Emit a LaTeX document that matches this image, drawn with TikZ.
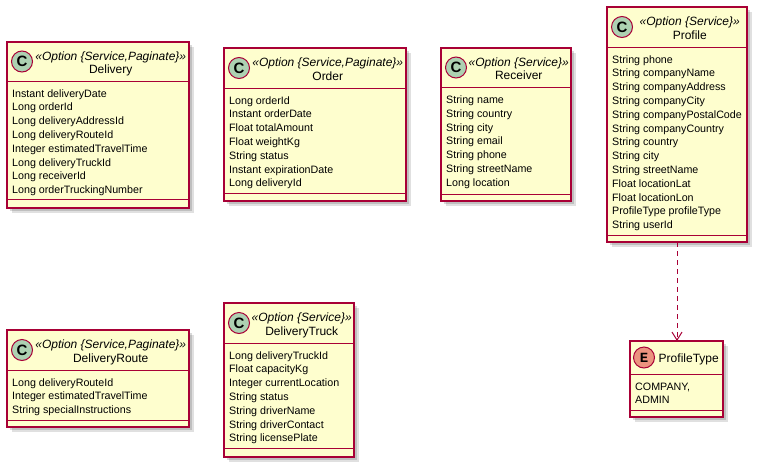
\documentclass[tikz,border=0pt]{standalone}
\usepackage{fontspec}
\setmainfont{Liberation Sans}
\newfontfamily\spotmono{Liberation Mono}
\usetikzlibrary{shadows,arrows.meta}
\definecolor{umlfill}{HTML}{FEFECE}
\definecolor{umlborder}{HTML}{A80036}
\definecolor{spotC}{HTML}{ADD1B2}
\definecolor{spotE}{HTML}{EB937F}
\tikzset{
  clsbox/.style={draw=umlborder, fill=umlfill, line width=1.2pt, inner sep=0pt, outer sep=0pt,
    anchor=north west, rectangle,
    drop shadow={shadow xshift=4.5pt, shadow yshift=-4.5pt, opacity=0.12, fill=black},
    drop shadow={shadow xshift=3pt, shadow yshift=-3pt, opacity=0.15, fill=black}},
  sepline/.style={draw=umlborder, line width=1pt},
  spot/.style={circle, draw=umlborder, line width=1pt, minimum size=21pt, inner sep=0pt},
  spotc/.style={fill=spotC, font=\fontsize{15}{15}\selectfont\bfseries},
  spote/.style={fill=spotE, font=\fontsize{14}{14}\selectfont\spotmono\bfseries},
  stereo/.style={anchor=base, inner sep=0pt, font=\fontsize{12}{14}\selectfont\itshape},
  cname/.style={anchor=base, inner sep=0pt, font=\fontsize{12}{14}\selectfont},
  attr/.style={anchor=base west, inner sep=0pt, font=\fontsize{10.7}{13.8}\selectfont},
  dep/.style={draw=umlborder, line width=1pt, dash pattern=on 5pt off 4pt,
    -{Straight Barb[length=8pt, width=10pt, line width=1pt]}}
}
\newcommand{\umlbox}[7]{%
  \node[clsbox, minimum width={#4-#2}, minimum height={#7-#3}] (#1) at (#2,#3) {};
  \draw[sepline] (#2,#5) -- (#4,#5);
  \draw[sepline] (#2,#6) -- (#4,#6);
}
\newcommand{\umlattrs}[4]{%
  \foreach \t [count=\i from 0] in {#4} {\node[attr] (#1-\i) at (#2,{#3+13.8*\i}) {\t};}
}
\begin{document}
\begin{tikzpicture}[x=1pt, y=-1pt]
\useasboundingbox (0,0) rectangle (760,469);

% Delivery
\umlbox{delivery}{7}{42}{189}{81.5}{199}{208}
\node[spot,spotc] (delivery-spot) at (22,61.5) {C};
\node[stereo] (delivery-st) at (110.75,60) {«Option \{Service,Paginate\}»};
\node[cname] (delivery-nm) at (110.75,73.5) {Delivery};
\umlattrs{delivery-a}{12}{97}{Instant deliveryDate, Long orderId, Long deliveryAddressId, Long deliveryRouteId, Integer estimatedTravelTime, Long deliveryTruckId, Long receiverId, Long orderTruckingNumber}

% Order
\umlbox{order}{224}{48}{406}{88}{193}{201}
\node[spot,spotc] (order-spot) at (239,68) {C};
\node[stereo] (order-st) at (327.75,66) {«Option \{Service,Paginate\}»};
\node[cname] (order-nm) at (327.75,80) {Order};
\umlattrs{order-a}{229}{104}{Long orderId, Instant orderDate, Float totalAmount, Float weightKg, String status, Instant expirationDate, Long deliveryId}

% Receiver
\umlbox{receiver}{441}{48}{571}{87.5}{194}{201}
\node[spot,spotc] (receiver-spot) at (456,67.5) {C};
\node[stereo] (receiver-st) at (518.75,66) {«Option \{Service\}»};
\node[cname] (receiver-nm) at (518.75,79.5) {Receiver};
\umlattrs{receiver-a}{446}{103.5}{String name, String country, String city, String email, String phone, String streetName, Long location}

% Profile
\umlbox{profile}{607}{7}{747}{47}{235}{242}
\node[spot,spotc] (profile-spot) at (622,27) {C};
\node[stereo] (profile-st) at (689.75,25) {«Option \{Service\}»};
\node[cname] (profile-nm) at (689.75,39) {Profile};
\umlattrs{profile-a}{612}{63}{String phone, String companyName, String companyAddress, String companyCity, String companyPostalCode, String companyCountry, String country, String city, String streetName, Float locationLat, Float locationLon, ProfileType profileType, String userId}

% DeliveryRoute
\umlbox{route}{7}{330}{189}{370}{420}{427}
\node[spot,spotc] (route-spot) at (22,350) {C};
\node[stereo] (route-st) at (110.75,348) {«Option \{Service,Paginate\}»};
\node[cname] (route-nm) at (110.75,362) {DeliveryRoute};
\umlattrs{route-a}{12}{386}{Long deliveryRouteId, Integer estimatedTravelTime, String specialInstructions}

% DeliveryTruck
\umlbox{truck}{224}{303}{354}{343}{448}{457}
\node[spot,spotc] (truck-spot) at (239,323) {C};
\node[stereo] (truck-st) at (301.75,321) {«Option \{Service\}»};
\node[cname] (truck-nm) at (301.75,335) {DeliveryTruck};
\umlattrs{truck-a}{229}{359}{Long deliveryTruckId, Float capacityKg, Integer currentLocation, String status, String driverName, String driverContact, String licensePlate}

% ProfileType
\umlbox{ptype}{630}{341}{723}{374}{410}{417}
\node[spot,spote] (ptype-spot) at (644,357.5) {E};
\node[cname] (ptype-nm) at (688.75,362.5) {ProfileType};
\umlattrs{ptype-a}{635}{390}{{COMPANY,}, ADMIN}

% dependency
\draw[dep] (profile.south) -- (profile.south |- ptype.north);
\end{tikzpicture}
\end{document}
